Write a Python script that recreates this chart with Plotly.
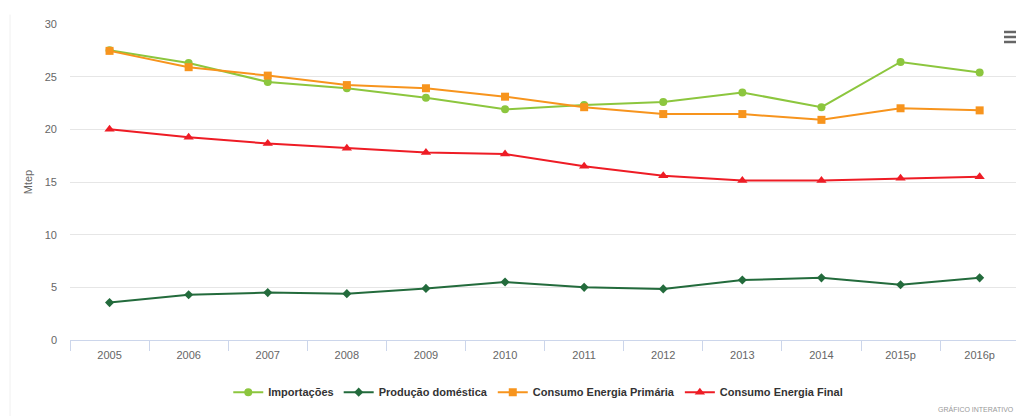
import plotly.graph_objects as go

# Categories (years; "p" = provisional)
years = ["2005", "2006", "2007", "2008", "2009", "2010",
         "2011", "2012", "2013", "2014", "2015p", "2016p"]

# Series values in Mtep
importacoes = [27.5, 26.3, 24.5, 23.9, 23.0, 21.9, 22.3, 22.6, 23.5, 22.1, 26.4, 25.4]
producao_domestica = [3.55, 4.3, 4.5, 4.4, 4.9, 5.5, 5.0, 4.85, 5.7, 5.9, 5.25, 5.9]
consumo_primaria = [27.45, 25.9, 25.1, 24.2, 23.9, 23.1, 22.1, 21.45, 21.45, 20.9, 22.0, 21.8]
consumo_final = [20.0, 19.25, 18.65, 18.2, 17.8, 17.65, 16.5, 15.6, 15.15, 15.15, 15.35, 15.5]

y_ticks = [0, 5, 10, 15, 20, 25, 30]

FONT = "Liberation Sans, Arial, sans-serif"

series = [
    ("Importações", importacoes, "#8cc63e", "circle", 8),
    ("Produção doméstica", producao_domestica, "#236b3c", "diamond", 7),
    ("Consumo Energia Primária", consumo_primaria, "#f7941d", "square", 8),
    ("Consumo Energia Final", consumo_final, "#ee1c25", "triangle-up", 9),
]

fig = go.Figure()
for name, vals, color, symbol, size in series:
    fig.add_trace(go.Scatter(
        x=years, y=vals, name=name, mode="lines+markers",
        line=dict(color=color, width=2),
        marker=dict(color=color, symbol=symbol, size=size),
    ))

# plot width in px: 1016 - 70 = 946; each category band ~79.1 px
band = 79.1
x_max = -0.5 + 946 / band

fig.update_layout(
    width=1016, height=416,
    margin=dict(l=70, r=0, t=24, b=76),
    paper_bgcolor="white", plot_bgcolor="white",
    font=dict(family=FONT, color="#666666", size=11),
    showlegend=True,
    legend=dict(
        orientation="h", x=0.495, xanchor="center", y=-0.165, yanchor="middle",
        font=dict(family=FONT, size=11, color="#333333", weight="bold"),
        itemwidth=30, tracegroupgap=0,
    ),
    xaxis=dict(
        type="category", range=[-0.5, x_max],
        showgrid=False, zeroline=False,
        showline=True, linecolor="#ccd6eb", linewidth=1,
        ticks="outside", tickson="boundaries", ticklen=10, tickcolor="#ccd6eb",
        ticklabelstandoff=5,
        tickfont=dict(family=FONT, size=11, color="#666666"),
    ),
    yaxis=dict(
        range=[0, 30], tickvals=y_ticks,
        showgrid=True, gridcolor="#e6e6e6", gridwidth=1,
        zeroline=False, showline=False,
        ticklabelstandoff=12,
        tickfont=dict(family=FONT, size=11, color="#666666"),
        title=dict(text="Mtep", standoff=9,
                   font=dict(family=FONT, size=11, color="#666666")),
    ),
)

# faint container border on the left
fig.add_shape(type="line", xref="paper", yref="paper",
              x0=-60 / 946, x1=-60 / 946, y0=-0.25, y1=1.03,
              line=dict(color="#f0f0f0", width=1))

# context menu icon (three bars)
for py in (32, 37, 42):
    yp = (340 - py) / 316
    fig.add_shape(type="line", xref="paper", yref="paper",
                  x0=(1004 - 70) / 946, x1=(1016 - 70) / 946, y0=yp, y1=yp,
                  line=dict(color="#666666", width=2.5))

fig.add_annotation(text="GRÁFICO INTERATIVO", xref="paper", yref="paper",
                   x=1.0, y=(340 - 415) / 316,
                   xanchor="right", yanchor="bottom", showarrow=False,
                   font=dict(family=FONT, size=7, color="#999999"))

fig.write_html("out.html")
